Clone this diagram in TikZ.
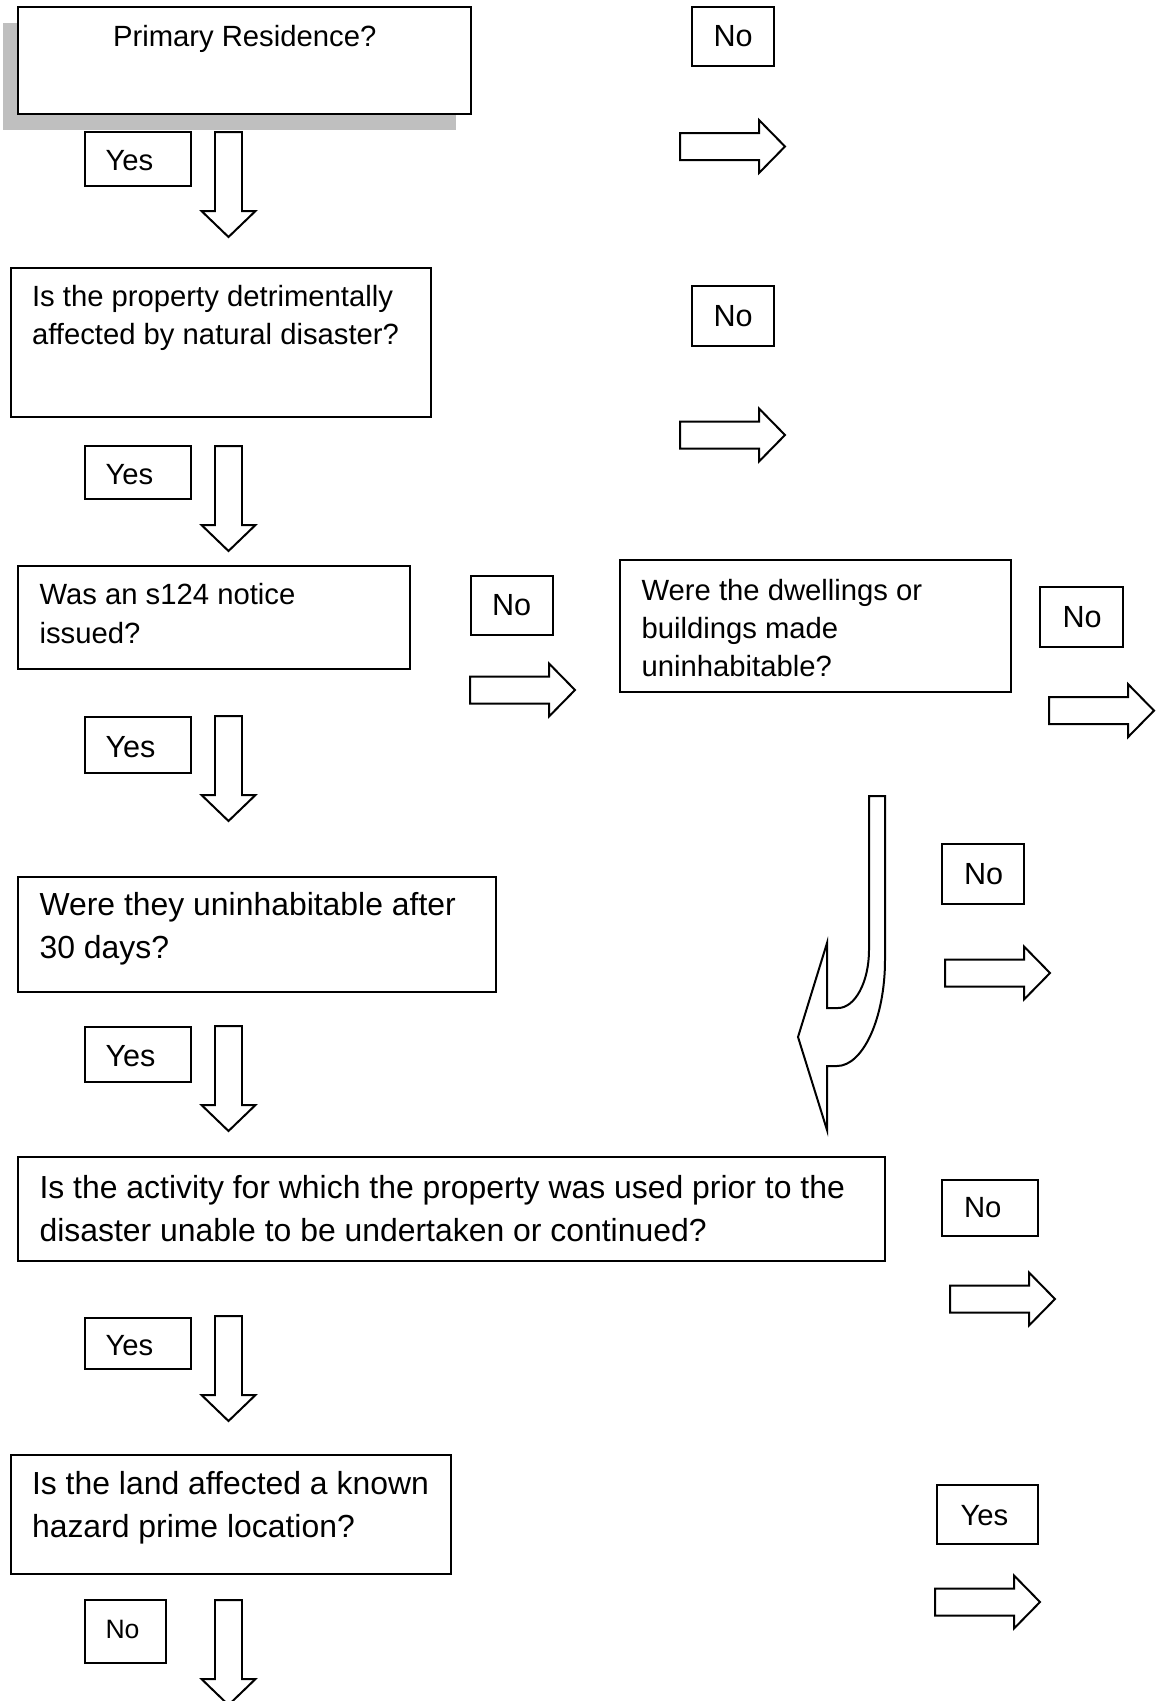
\documentclass[tikz,border=0pt]{standalone}
\usepackage{fontspec}
\setmainfont{Liberation Sans}
\usepackage{tikz}
\def\rightblock(#1,#2){\draw[blockarrow] (#1,#2) ++(0,-13.5) -- ++(79,0) -- ++(0,-13) -- ++(26,26.5) -- ++(-26,26.5) -- ++(0,-13) -- ++(-79,0) -- cycle}
\def\downblock(#1,#2){\draw[blockarrow] (#1,#2) ++(-13.5,0) -- ++(0,79) -- ++(-13.5,0) -- ++(27,26) -- ++(27,-26) -- ++(-13.5,0) -- ++(0,-79) -- cycle}

\begin{document}
\begin{tikzpicture}[x=0.376pt, y=-0.376pt,
	box/.style={draw, line width=0.75pt, fill=white},
	blockarrow/.style={draw, line width=0.75pt, line join=miter},
	qsmall/.style={font=\fontsize{11}{14.3}\selectfont, align=left, anchor=base west, inner sep=0pt},
	qlarge/.style={font=\fontsize{12}{16}\selectfont, align=left, anchor=base west, inner sep=0pt},
	lbl/.style={font=\fontsize{11}{13}\selectfont, anchor=west, inner sep=0pt},
	lblbig/.style={font=\fontsize{11.5}{13}\selectfont, anchor=west, inner sep=0pt}]
			%%%%% START %%%%%
			\useasboundingbox (0,0) rectangle (1163,1701);
			
			% primary residence
			\fill[black!25] (3.3,22.7) rectangle (456,130);
			\draw[box] (18.4,6.7) rectangle (471,114);
			\node[font=\fontsize{11}{13}\selectfont, anchor=base] (q1) at (244.7,46) {Primary Residence?};
			\draw[box] (692,6.5) rectangle (773.5,66);
			\node[lblbig] (no1) at (713,36.5) {No};
			\rightblock(680,146.5);
			\draw[box] (84.6,132) rectangle (190.7,185.7);
			\node[lbl] (yes1) at (105,161) {Yes};
			\downblock(228.5,132);
			
			% natural disaster
			\draw[box] (10.8,268) rectangle (430.7,416.6);
			\node[qsmall] (q2) at (31.5,344.5) {Is the property detrimentally\\affected by natural disaster?};
			\draw[box] (692,286) rectangle (773.5,346);
			\node[lblbig] (no2) at (713,316) {No};
			\rightblock(680,435);
			\draw[box] (84.6,446) rectangle (190.7,499);
			\node[lbl] (yes2) at (105,474.5) {Yes};
			\downblock(228.5,446);
			
			% s124 notice
			\draw[box] (18.4,566) rectangle (410,669.4);
			\node[qsmall] (q3) at (39,643) {Was an s124 notice\\issued?};
			\draw[box] (471,576) rectangle (553,635);
			\node[lblbig] (no3) at (491.5,605.5) {No};
			\rightblock(470,690);
			\draw[box] (619.5,560) rectangle (1011,692);
			\node[qsmall] (q4) at (641,676.5) {Were the dwellings or\\buildings made\\uninhabitable?};
			\draw[box] (1040,587) rectangle (1123,647);
			\node[lblbig] (no4) at (1062,617) {No};
			\rightblock(1049,710.6);
			\draw[box] (84.6,717) rectangle (190.7,772.5);
			\node[lblbig] (yes3) at (105,747) {Yes};
			\downblock(228.5,716);
			
			% back from dwellings
			\draw[blockarrow] (885,796) -- (885,960) .. controls (885,1018) and (863,1066) .. (837,1066) -- (827,1066) -- (827,1130) -- (798,1037) -- (827,943) -- (827,1008) -- (838,1008) .. controls (855,1008) and (869,982) .. (869,950) -- (869,796) -- cycle;
			
			% 30 days
			\draw[box] (18.4,876.6) rectangle (496,991.6);
			\node[qlarge] (q5) at (39,958.5) {Were they uninhabitable after\\30 days?};
			\draw[box] (941.7,844) rectangle (1024,904);
			\node[lblbig] (no5) at (963.5,874) {No};
			\rightblock(945,973);
			\draw[box] (84.6,1027) rectangle (190.7,1082);
			\node[lblbig] (yes4) at (105,1056.5) {Yes};
			\downblock(228.5,1026);
			
			% activity
			\draw[box] (18.4,1156.5) rectangle (885,1260.6);
			\node[qlarge] (q6) at (39,1241) {Is the activity for which the property was used prior to the\\disaster unable to be undertaken or continued?};
			\draw[box] (941.7,1180) rectangle (1038,1235.7);
			\node[lbl] (no6) at (963.5,1208) {No};
			\rightblock(950,1299);
			\draw[box] (84.6,1318) rectangle (190.7,1369);
			\node[lbl] (yes5) at (105,1346) {Yes};
			\downblock(228.5,1316);
			
			% hazard prime
			\draw[box] (10.8,1455) rectangle (451,1574);
			\node[qlarge] (q7) at (31.5,1537.5) {Is the land affected a known\\hazard prime location?};
			\draw[box] (937,1485) rectangle (1038,1544);
			\node[lbl] (yes6) at (960,1516) {Yes};
			\rightblock(935,1602);
			\draw[box] (84.6,1600) rectangle (166,1663);
			\node[lbl, font=\fontsize{10}{12}\selectfont] (no7) at (105,1629.5) {No};
			\downblock(228.5,1600);
			
			%%%%% END %%%%%
\end{tikzpicture}
\end{document}
